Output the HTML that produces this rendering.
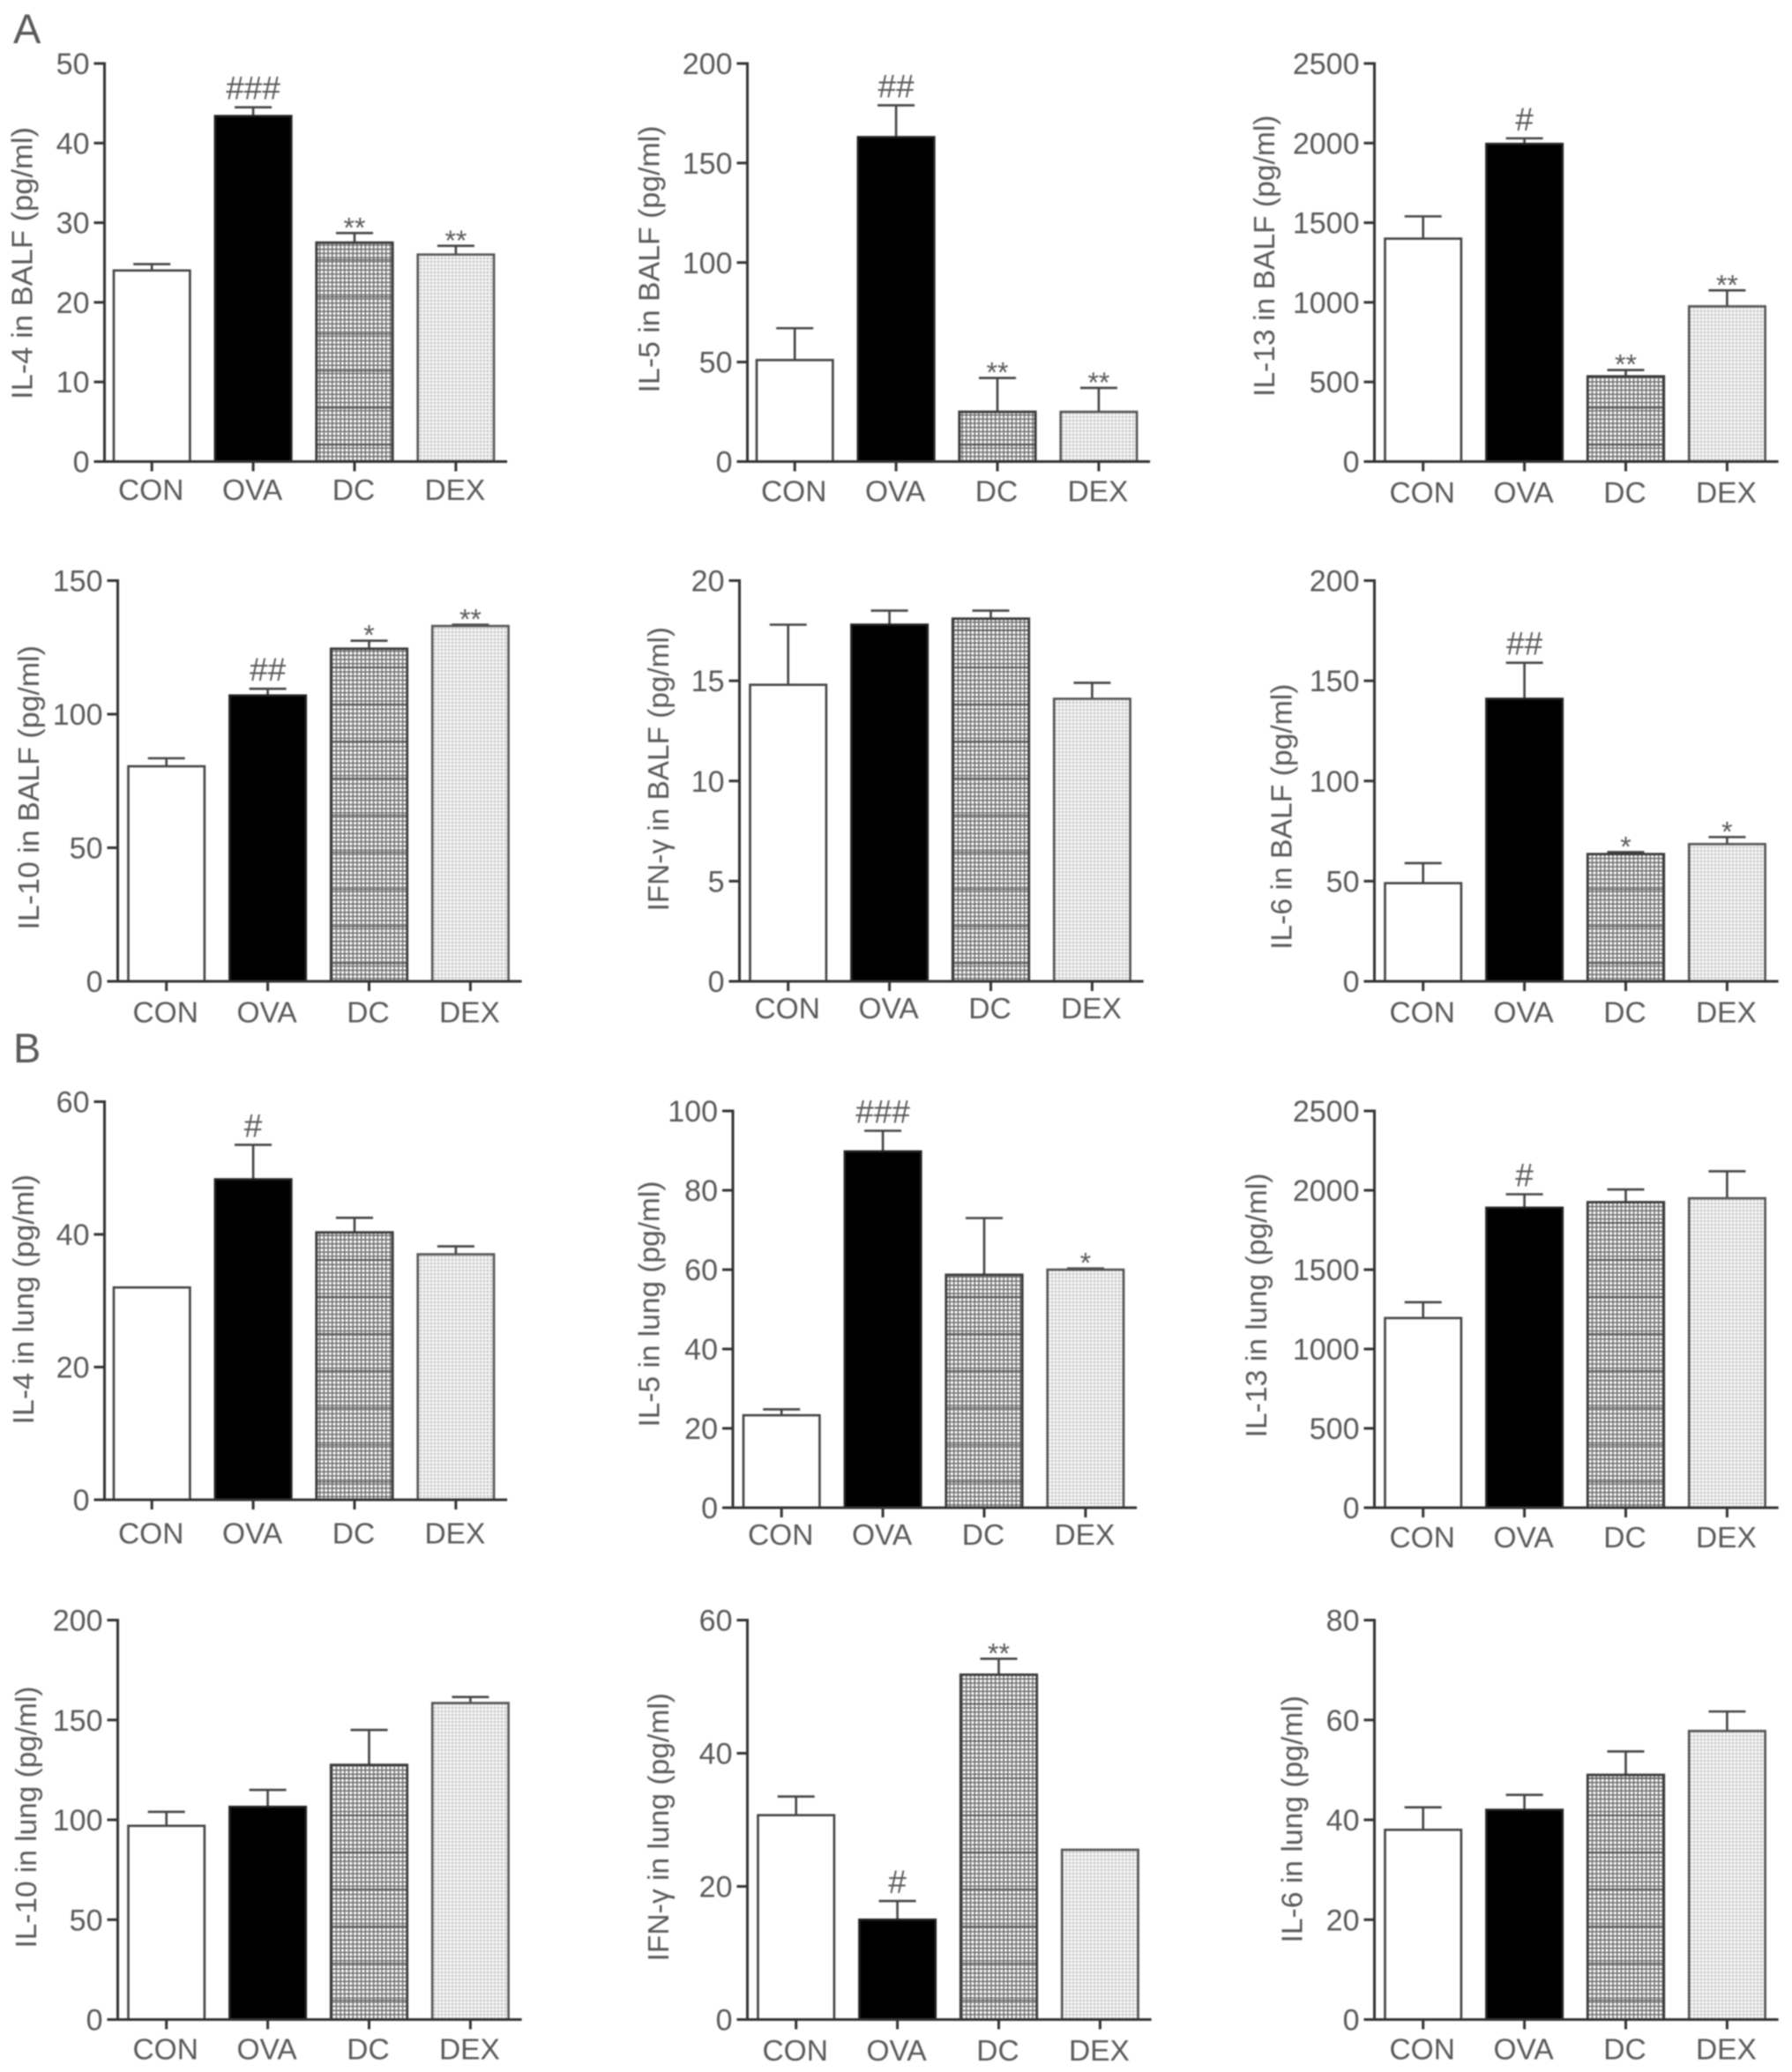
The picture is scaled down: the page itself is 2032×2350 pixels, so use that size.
<!DOCTYPE html>
<html lang="en">
<head>
<meta charset="utf-8">
<title>Cytokine levels in BALF and lung</title>
<style>
html,body{margin:0;padding:0;background:#fff;width:2032px;height:2350px;overflow:hidden}
svg{display:block;filter:blur(0.7px)}
text{font-family:"Liberation Sans","DejaVu Sans",sans-serif;fill:#5a5a5a}
</style>
</head>
<body>
<svg id="figure" width="2032" height="2350" viewBox="0 0 2032 2350" xmlns="http://www.w3.org/2000/svg">
<defs>
<pattern id="grid-fill" width="4.7" height="4.7" patternUnits="userSpaceOnUse">
<rect width="4.7" height="4.7" fill="#fafafa"/>
<path d="M0 .7H4.7M.7 0V4.7" stroke="#666" stroke-width="1.4" fill="none"/>
</pattern>
<pattern id="grid-bands" width="4.7" height="42" patternUnits="userSpaceOnUse">
<path d="M0 .7H4.7" stroke="#4a4a4a" stroke-width="1.2" fill="none"/>
</pattern>
<pattern id="dot-fill" width="4" height="4" patternUnits="userSpaceOnUse">
<rect width="4" height="4" fill="#ececec"/>
<rect x="0" y="0" width="2" height="2" fill="#bdbdbd"/>
<rect x="2" y="2" width="2" height="2" fill="#fafafa"/>
</pattern>
</defs>
<text x="15" y="49" font-size="47">A</text>
<text x="15" y="1205" font-size="47">B</text>
<g id="panels"></g>
</svg>
<script>
const categories = ['CON', 'OVA', 'DC', 'DEX'];

const il4BalfValues = [24, 43.4, 27.5, 26];
const il4BalfErrors = [0.8, 1.1, 1.2, 1.1];
const il4BalfTicks = [0, 10, 20, 30, 40, 50];
const il4BalfMarks = ['', '###', '**', '**'];

const il5BalfValues = [51, 163, 25, 25];
const il5BalfErrors = [16, 16, 17, 12];
const il5BalfTicks = [0, 50, 100, 150, 200];
const il5BalfMarks = ['', '##', '**', '**'];

const il13BalfValues = [1400, 1995, 535, 975];
const il13BalfErrors = [140, 35, 40, 100];
const il13BalfTicks = [0, 500, 1000, 1500, 2000, 2500];
const il13BalfMarks = ['', '#', '**', '**'];

const il10BalfValues = [80.5, 107, 124.5, 133];
const il10BalfErrors = [3, 2.5, 3, 0.5];
const il10BalfTicks = [0, 50, 100, 150];
const il10BalfMarks = ['', '##', '*', '**'];

const ifnBalfValues = [14.8, 17.8, 18.1, 14.1];
const ifnBalfErrors = [3, 0.7, 0.4, 0.8];
const ifnBalfTicks = [0, 5, 10, 15, 20];
const ifnBalfMarks = ['', '', '', ''];

const il6BalfValues = [49, 141, 63.5, 68.5];
const il6BalfErrors = [10, 18, 1, 3.5];
const il6BalfTicks = [0, 50, 100, 150, 200];
const il6BalfMarks = ['', '##', '*', '*'];

const il4LungValues = [32, 48.3, 40.3, 37];
const il4LungErrors = [0, 5.2, 2.2, 1.2];
const il4LungTicks = [0, 20, 40, 60];
const il4LungMarks = ['', '#', '', ''];

const il5LungValues = [23.3, 89.8, 58.7, 60];
const il5LungErrors = [1.5, 5.2, 14.3, 0.3];
const il5LungTicks = [0, 20, 40, 60, 80, 100];
const il5LungMarks = ['', '###', '', '*'];

const il13LungValues = [1195, 1890, 1925, 1950];
const il13LungErrors = [100, 85, 80, 170];
const il13LungTicks = [0, 500, 1000, 1500, 2000, 2500];
const il13LungMarks = ['', '#', '', ''];

const il10LungValues = [97, 106.5, 127.5, 158.5];
const il10LungErrors = [7, 8.5, 17.5, 3];
const il10LungTicks = [0, 50, 100, 150, 200];
const il10LungMarks = ['', '', '', ''];

const ifnLungValues = [30.7, 15, 51.8, 25.5];
const ifnLungErrors = [2.8, 2.8, 2.4, 0];
const ifnLungTicks = [0, 20, 40, 60];
const ifnLungMarks = ['', '#', '**', ''];

const il6LungValues = [38, 42, 49, 57.8];
const il6LungErrors = [4.5, 3, 4.7, 3.9];
const il6LungTicks = [0, 20, 40, 60, 80];
const il6LungMarks = ['', '', '', ''];

const SCALE = 1.5;
const NS = 'http://www.w3.org/2000/svg';
const INK = '#333333';
const panelsRoot = document.getElementById('panels');

function make(tag, attrs, parent) {
  const el = document.createElementNS(NS, tag);
  for (const key in attrs) el.setAttribute(key, attrs[key]);
  parent.appendChild(el);
  return el;
}

function drawPanel(p) {
  const g = make('g', {}, panelsRoot);
  
  

  const top = p.top * SCALE, base = p.base * SCALE, axisX = p.axis * SCALE;
  const maxTick = p.ticks[p.ticks.length - 1];
  const yScale = v => base - (v / maxTick) * (base - top);
  const barWidth = 57.6 * SCALE;
  const barStep = 76.6 * SCALE;
  const xBand = i => p.firstBar * SCALE + i * barStep;

  categories.forEach((cat, i) => {
    const x = xBand(i), w = barWidth, y = yScale(p.values[i]), h = base - y, cx = x + w / 2;
    const bar = make('g', {}, g);
    
    

    if (p.errors[i] > 0) {
      const capY = yScale(p.values[i] + p.errors[i]);
      make('path', { d: `M${cx} ${y}V${capY}M${cx - 21} ${capY}H${cx + 21}`, stroke: '#444', 'stroke-width': 2.6, fill: 'none' }, bar);
    }
    if (cat === 'CON') {
      make('rect', { x, y, width: w, height: h, fill: '#fff', stroke: '#444', 'stroke-width': 2.6 }, bar);
    } else if (cat === 'OVA') {
      make('rect', { x, y, width: w, height: h, fill: '#000', stroke: '#222', 'stroke-width': 2.6 }, bar);
    } else if (cat === 'DC') {
      make('rect', { x, y, width: w, height: h, fill: 'url(#grid-fill)' }, bar);
      make('rect', { x, y, width: w, height: h, fill: 'url(#grid-bands)', stroke: '#3a3a3a', 'stroke-width': 2.8 }, bar);
    } else {
      make('rect', { x, y, width: w, height: h, fill: 'url(#dot-fill)', stroke: '#555', 'stroke-width': 2.6 }, bar);
    }

    const mark = p.marks[i];
    if (mark) {
      const capY = yScale(p.values[i] + p.errors[i]);
      const isHash = mark[0] === '#';
      const label = make('text', {
        x: cx,
        y: isHash ? capY - 9 : capY + 5,
        'text-anchor': 'middle',
        'font-size': isHash ? 37 : 32
      }, g);
      
      
      label.textContent = mark;
    }

    const tick = make('line', { x1: cx, x2: cx, y1: base, y2: base + 11, stroke: INK, 'stroke-width': 3 }, g);
    
    

    const catLabel = make('text', { x: cx - 1, y: (p.base + p.labelDrop) * SCALE, 'text-anchor': 'middle', 'font-size': 33.5 }, g);
    
    
    catLabel.textContent = cat;
  });

  const xAxis = make('line', { x1: axisX - 12, x2: xBand(3) + barWidth + 15, y1: base, y2: base, stroke: INK, 'stroke-width': 3 }, g);
  
  

  const yAxis = make('line', { x1: axisX, x2: axisX, y1: top - 1.5, y2: base + 1.5, stroke: INK, 'stroke-width': 3 }, g);
  
  

  p.ticks.forEach(t => {
    const y = yScale(t);
    const tick = make('line', { x1: axisX - 12, x2: axisX, y1: y, y2: y, stroke: INK, 'stroke-width': 3 }, g);
    
    
    const label = make('text', { x: axisX - 17, y: y + 12, 'text-anchor': 'end', 'font-size': 34 }, g);
    
    
    label.textContent = t;
  });

  const midY = (p.titleTop + p.titleBottom) / 2 * SCALE;
  const title = make('text', {
    transform: `translate(${p.titleX * SCALE + 8} ${midY}) rotate(-90)`,
    'text-anchor': 'middle',
    'font-size': 33,
    textLength: (p.titleBottom - p.titleTop) * SCALE,
    lengthAdjust: 'spacingAndGlyphs'
  }, g);
  
  
  title.textContent = p.title;
}

const panels = [
  { id: 'il4-balf', title: 'IL-4 in BALF (pg/ml)', values: il4BalfValues, errors: il4BalfErrors, ticks: il4BalfTicks, marks: il4BalfMarks, axis: 79, top: 48, base: 349, firstBar: 86, labelDrop: 29, titleX: 19, titleTop: 96, titleBottom: 302 },
  { id: 'il5-balf', title: 'IL-5 in BALF (pg/ml)', values: il5BalfValues, errors: il5BalfErrors, ticks: il5BalfTicks, marks: il5BalfMarks, axis: 565, top: 48, base: 349, firstBar: 572, labelDrop: 30, titleX: 493, titleTop: 95, titleBottom: 297 },
  { id: 'il13-balf', title: 'IL-13 in BALF (pg/ml)', values: il13BalfValues, errors: il13BalfErrors, ticks: il13BalfTicks, marks: il13BalfMarks, axis: 1039, top: 48, base: 349, firstBar: 1047, labelDrop: 31, titleX: 958, titleTop: 87, titleBottom: 300 },
  { id: 'il10-balf', title: 'IL-10 in BALF (pg/ml)', values: il10BalfValues, errors: il10BalfErrors, ticks: il10BalfTicks, marks: il10BalfMarks, axis: 89, top: 439, base: 742, firstBar: 97, labelDrop: 31, titleX: 24, titleTop: 488, titleBottom: 703 },
  { id: 'ifn-balf', title: 'IFN-γ in BALF (pg/ml)', values: ifnBalfValues, errors: ifnBalfErrors, ticks: ifnBalfTicks, marks: ifnBalfMarks, axis: 559, top: 439, base: 742, firstBar: 567, labelDrop: 28, titleX: 500, titleTop: 474, titleBottom: 689 },
  { id: 'il6-balf', title: 'IL-6 in BALF (pg/ml)', values: il6BalfValues, errors: il6BalfErrors, ticks: il6BalfTicks, marks: il6BalfMarks, axis: 1039, top: 439, base: 742, firstBar: 1047, labelDrop: 31, titleX: 971, titleTop: 517, titleBottom: 718 },
  { id: 'il4-lung', title: 'IL-4 in lung (pg/ml)', values: il4LungValues, errors: il4LungErrors, ticks: il4LungTicks, marks: il4LungMarks, axis: 79, top: 833, base: 1134, firstBar: 86, labelDrop: 33, titleX: 20, titleTop: 888, titleBottom: 1077 },
  { id: 'il5-lung', title: 'IL-5 in lung (pg/ml)', values: il5LungValues, errors: il5LungErrors, ticks: il5LungTicks, marks: il5LungMarks, axis: 554, top: 840, base: 1140, firstBar: 562, labelDrop: 28, titleX: 493, titleTop: 893, titleBottom: 1079 },
  { id: 'il13-lung', title: 'IL-13 in lung (pg/ml)', values: il13LungValues, errors: il13LungErrors, ticks: il13LungTicks, marks: il13LungMarks, axis: 1039, top: 840, base: 1140, firstBar: 1047, labelDrop: 30, titleX: 952, titleTop: 887, titleBottom: 1087 },
  { id: 'il10-lung', title: 'IL-10 in lung (pg/ml)', values: il10LungValues, errors: il10LungErrors, ticks: il10LungTicks, marks: il10LungMarks, axis: 89, top: 1225, base: 1527, firstBar: 97, labelDrop: 30, titleX: 22, titleTop: 1275, titleBottom: 1473 },
  { id: 'ifn-lung', title: 'IFN-γ in lung (pg/ml)', values: ifnLungValues, errors: ifnLungErrors, ticks: ifnLungTicks, marks: ifnLungMarks, axis: 565, top: 1225, base: 1527, firstBar: 573, labelDrop: 31, titleX: 500, titleTop: 1280, titleBottom: 1483 },
  { id: 'il6-lung', title: 'IL-6 in lung (pg/ml)', values: il6LungValues, errors: il6LungErrors, ticks: il6LungTicks, marks: il6LungMarks, axis: 1039, top: 1225, base: 1527, firstBar: 1047, labelDrop: 30, titleX: 979, titleTop: 1282, titleBottom: 1469 }
];

panels.forEach(drawPanel);
</script>
</body>
</html>
